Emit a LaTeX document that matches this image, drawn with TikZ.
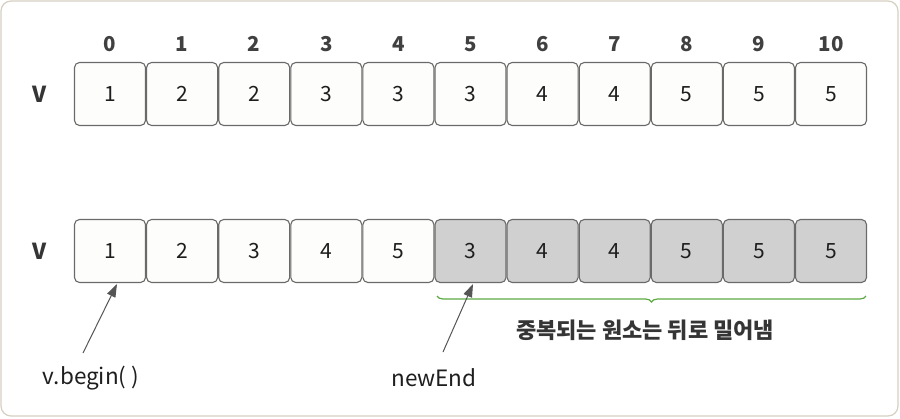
\documentclass[tikz,border=0pt]{standalone}
\usepackage{fontspec}
\setmainfont{Noto Sans CJK KR}
\usetikzlibrary{arrows.meta,decorations.pathreplacing}
\definecolor{frame}{HTML}{D6D0C2}
\definecolor{boxline}{HTML}{6A6A6A}
\definecolor{boxfill}{HTML}{FDFDFB}
\definecolor{grayfill}{HTML}{D0D0D0}
\definecolor{arr}{HTML}{555555}
\definecolor{brc}{HTML}{5DAA45}
\definecolor{txt}{HTML}{1E1E1E}
\tikzset{
  cell/.style={draw=boxline,line width=1.1pt,rounded corners=5pt,fill=boxfill,minimum width=71pt,minimum height=63pt,inner sep=0pt,font=\fontsize{21}{24}\selectfont,text=txt},
  dup/.style={cell,fill=grayfill},
  idx/.style={font=\fontsize{20.5}{24}\selectfont\bfseries,text=txt!85!white},
  lbl/.style={font=\fontsize{22}{26}\selectfont\bfseries,text=txt!90!white},
  plbl/.style={font=\fontsize{22.5}{26}\selectfont,text=txt},
  ptr/.style={draw=arr,line width=1pt,-{Triangle[length=13pt,width=9pt]}}
}
\begin{document}
\begin{tikzpicture}[x=1pt,y=-1pt]
\useasboundingbox (0,0) rectangle (900,418);
\draw[frame,line width=1.2pt,rounded corners=10pt,fill=white] (1,1) rectangle (898,416);
% top row
\node[lbl] (v1) at (40,94) {V};
\foreach \i/\val in {0/1,1/2,2/2,3/3,4/3,5/3,6/4,7/4,8/5,9/5,10/5}{
  \node[cell] (t\i) at ({110+72.1*\i},94) {\val};
  \node[idx] (i\i) at ({110+72.1*\i},44) {\i};
}
% bottom row
\node[lbl] (v2) at (40,251) {V};
\foreach \i/\val in {0/1,1/2,2/3,3/4,4/5}{
  \node[cell] (b\i) at ({110+72.1*\i},251) {\val};
}
\foreach \i/\val in {5/3,6/4,7/4,8/5,9/5,10/5}{
  \node[dup] (b\i) at ({110+72.1*\i},251) {\val};
}
% brace
\coordinate (bl) at (437,296);
\coordinate (br) at (866,296);
\draw[brc,line width=1.2pt,decorate,decoration={brace,mirror,amplitude=6pt}] (bl) -- (br);
\node[lbl] (dupt) at (645,330) {중복되는 원소는 뒤로 밀어냄};
% pointers
\node[plbl] (vb) at (91,378) {v.begin( )};
\node[plbl] (ne) at (434,378) {newEnd};
\coordinate (vbs) at (83,353);
\coordinate (nes) at (443,352);
\draw[ptr] (vbs) -- (117,284);
\draw[ptr] (nes) -- (473,284);
\end{tikzpicture}
\end{document}
